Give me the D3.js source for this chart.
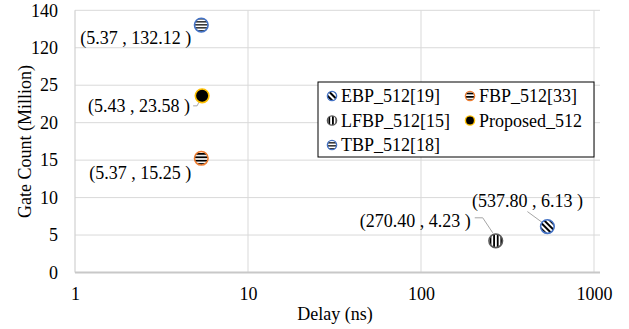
<!DOCTYPE html>
<html>
<head>
<meta charset="utf-8">
<script src="https://cdn.jsdelivr.net/npm/d3@7/dist/d3.min.js"></script>
<style>
  html, body { margin: 0; padding: 0; background: #fff; }
  svg { display: block; }
  svg text { font-family: "Liberation Serif", "Times New Roman", serif; }
</style>
</head>
<body>
<svg id="chart" width="629" height="329"></svg>
<script>
// Design points: delay (ns) vs gate count (million)
const seriesNames = ["EBP_512[19]", "FBP_512[33]", "LFBP_512[15]", "Proposed_512", "TBP_512[18]"];
const delayNs     = [537.80, 5.37, 270.40, 5.43, 5.37];
const gateMillion = [6.13, 15.25, 4.23, 23.58, 132.12];

// Axis ticks (the y axis is broken between 25 and 120)
const xTicks = [1, 10, 100, 1000];
const yTicks = [0, 5, 10, 15, 20, 25, 120, 140];

const SERIF = "'Liberation Serif', 'Times New Roman', serif";

// Marker styling per series
const markerStyle = {
  "EBP_512[19]":  { stroke: "#4472c4", fill: "url(#pDiag)" },
  "FBP_512[33]":  { stroke: "#ed7d31", fill: "url(#pHorz)" },
  "LFBP_512[15]": { stroke: "#595959", fill: "url(#pVert)" },
  "Proposed_512": { stroke: "#ffc000", fill: "#000000" },
  "TBP_512[18]":  { stroke: "#4472c4", fill: "url(#pHorzGray)" }
};

// Data label placement: text anchor point relative to marker, plus optional leader line
const labelLayout = {
  "EBP_512[19]":  { dx: -20, dy: -20, anchor: "middle", leader: [[-20, -15], [-5, -4]] },
  "FBP_512[33]":  { dx: -10, dy: 21, anchor: "end", leader: null },
  "LFBP_512[15]": { dx: -25, dy: -14, anchor: "end", leader: [[-21, -23], [-13, -23], [-3, -8]] },
  "Proposed_512": { dx: -12, dy: 16, anchor: "end", leader: [[-9, 10], [-5, 10], [-2, 4]] },
  "TBP_512[18]":  { dx: -10, dy: 19, anchor: "end", leader: null }
};

const plot = { left: 75, right: 594, top: 10.3, bottom: 272.5 };
const step = (plot.bottom - plot.top) / 7;

const svg = d3.select("#chart");

// Stripe patterns for the markers
const defs = svg.append("defs");
function stripes(id, angle, color, period, width) {
  const p = defs.append("pattern")
    .attr("id", id)
    .attr("patternUnits", "userSpaceOnUse")
    .attr("width", period).attr("height", period)
    .attr("patternTransform", `rotate(${angle})`);
  p.append("rect").attr("width", period).attr("height", period).attr("fill", "#fff");
  p.append("rect").attr("width", width).attr("height", period).attr("fill", color);
}
stripes("pVert", 0, "#000", 3.6, 1.8);
stripes("pHorz", 90, "#000", 3.4, 1.8);
stripes("pHorzGray", 90, "#3a3a3a", 3, 1.6);
stripes("pDiag", -45, "#000", 4, 2);

const x = d3.scaleLog().domain([1, 1000]).range([plot.left, plot.right]);
const y = d3.scaleLinear()
  .domain([0, 25, 120, 140])
  .range([plot.bottom, plot.bottom - 5 * step, plot.bottom - 6 * step, plot.top]);

// Horizontal gridlines
svg.append("g")
  .selectAll("line")
  .data(yTicks.filter(d => d !== 0))
  .join("line")
  .attr("x1", plot.left).attr("x2", plot.right + 6)
  .attr("y1", d => y(d)).attr("y2", d => y(d))
  .attr("stroke", "#d9d9d9").attr("stroke-width", 1);

// Vertical gridlines
svg.append("g")
  .selectAll("line")
  .data(xTicks.filter(d => d !== 1))
  .join("line")
  .attr("x1", d => x(d)).attr("x2", d => x(d))
  .attr("y1", plot.top).attr("y2", plot.bottom)
  .attr("stroke", "#d9d9d9").attr("stroke-width", 1);

// Left axis line
svg.append("line")
  .attr("x1", plot.left).attr("x2", plot.left)
  .attr("y1", plot.top).attr("y2", plot.bottom)
  .attr("stroke", "#d0d0d0").attr("stroke-width", 1.2);

// Bottom axis line
svg.append("line")
  .attr("x1", plot.left).attr("x2", plot.right + 6)
  .attr("y1", plot.bottom).attr("y2", plot.bottom)
  .attr("stroke", "#c8c8c8").attr("stroke-width", 1.8);

// Y axis tick labels
const yAxis = d3.axisLeft(y).tickValues(yTicks).tickSize(0).tickPadding(17).tickFormat(d3.format("d"));
const gy = svg.append("g").attr("transform", `translate(${plot.left},0)`).call(yAxis)
  .attr("font-family", SERIF).attr("font-size", 18);
gy.select(".domain").remove();
gy.selectAll("text").style("font-family", SERIF).attr("fill", "#000");

// X axis tick labels
const xAxis = d3.axisBottom(x).tickValues(xTicks).tickSize(0).tickPadding(15).tickFormat(d3.format("d"));
const gx = svg.append("g").attr("transform", `translate(0,${plot.bottom})`).call(xAxis)
  .attr("font-family", SERIF).attr("font-size", 18);
gx.select(".domain").remove();
gx.selectAll("text").style("font-family", SERIF).attr("fill", "#000");

// Axis titles
svg.append("text")
  .attr("x", 335).attr("y", 320)
  .attr("text-anchor", "middle").attr("font-size", 18).attr("fill", "#000")
  .style("font-family", SERIF)
  .text("Delay (ns)");
svg.append("text")
  .attr("transform", `translate(31,${(plot.top + plot.bottom) / 2}) rotate(-90)`)
  .attr("text-anchor", "middle").attr("font-size", 18).attr("fill", "#000")
  .style("font-family", SERIF)
  .text("Gate Count (Million)");

// Data rows
const rows = seriesNames.map((name, i) => ({ name, dx: delayNs[i], gy: gateMillion[i] }));
const fmt = d3.format(".2f");

// Leader lines
svg.append("g")
  .selectAll("polyline")
  .data(rows.filter(r => labelLayout[r.name].leader))
  .join("polyline")
  .attr("points", r => labelLayout[r.name].leader
    .map(([a, b]) => `${x(r.dx) + a},${y(r.gy) + b}`).join(" "))
  .attr("fill", "none").attr("stroke", "#a6a6a6").attr("stroke-width", 1);

// Markers
svg.append("g")
  .selectAll("circle")
  .data(rows)
  .join("circle")
  .attr("cx", r => x(r.dx)).attr("cy", r => y(r.gy)).attr("r", 6.8)
  .attr("fill", r => markerStyle[r.name].fill)
  .attr("stroke", r => markerStyle[r.name].stroke).attr("stroke-width", 1.6);

// Data labels
svg.append("g")
  .selectAll("text")
  .data(rows)
  .join("text")
  .attr("x", r => x(r.dx) + labelLayout[r.name].dx)
  .attr("y", r => y(r.gy) + labelLayout[r.name].dy)
  .attr("text-anchor", r => labelLayout[r.name].anchor)
  .attr("font-size", 18).attr("fill", "#000")
  .style("font-family", SERIF)
  .text(r => `(${fmt(r.dx)} , ${fmt(r.gy)} )`);

// Legend
const legend = svg.append("g").attr("transform", "translate(318,82)");
legend.append("rect")
  .attr("width", 276).attr("height", 75)
  .attr("fill", "#fff").attr("stroke", "#000").attr("stroke-width", 1);
const li = legend.selectAll("g.item")
  .data(seriesNames)
  .join("g")
  .attr("class", "item")
  .attr("transform", (d, i) => `translate(${i % 2 === 0 ? 14 : 152},${14 + Math.floor(i / 2) * 24.5})`);
li.append("circle")
  .attr("r", 4.6)
  .attr("fill", d => markerStyle[d].fill)
  .attr("stroke", d => markerStyle[d].stroke).attr("stroke-width", 1.4);
li.append("text")
  .attr("x", 9).attr("y", 6)
  .attr("font-size", 18).attr("fill", "#000")
  .style("font-family", SERIF)
  .text(d => d);
</script>
</body>
</html>
